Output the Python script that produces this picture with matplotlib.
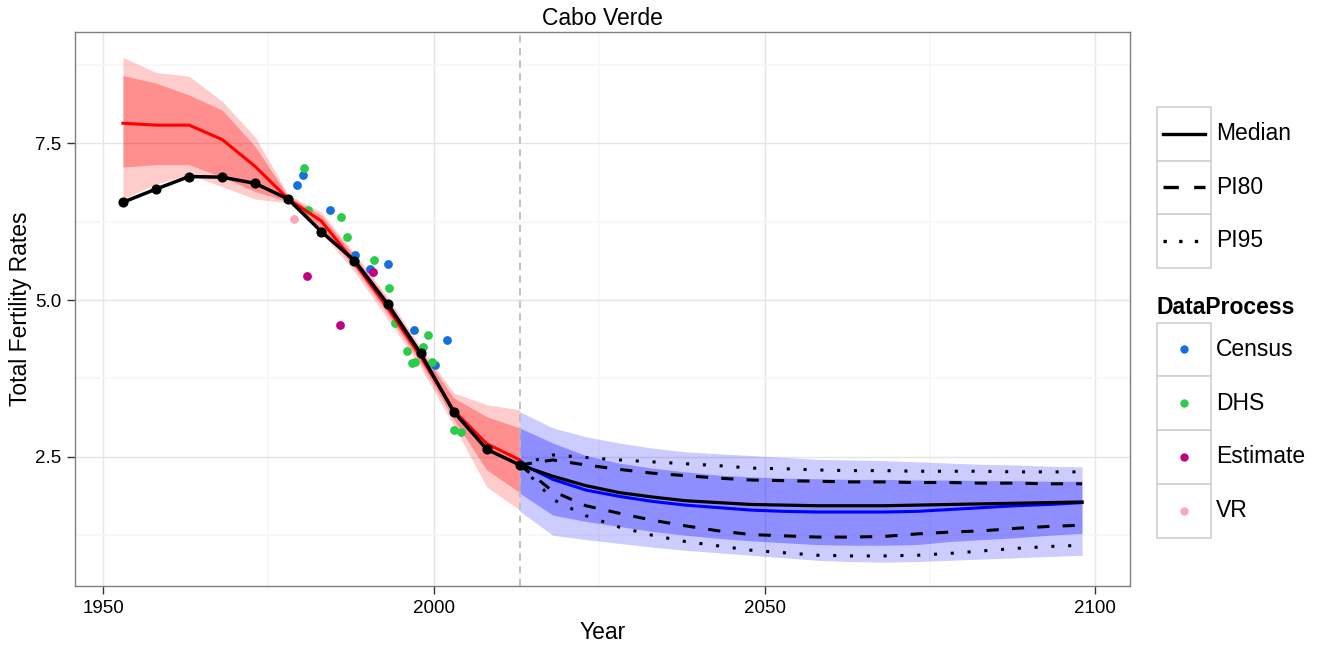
"""TFR plot for Cabo Verde: estimation (red) + projection (blue) with PI bands
and the observed data points by source."""
import matplotlib
matplotlib.use("Agg")
import matplotlib.pyplot as plt
from matplotlib.patches import Rectangle
from matplotlib.lines import Line2D

plt.rcParams["font.family"] = ["Liberation Sans", "DejaVu Sans"]

# ---- data ----
est_years = [1953, 1958, 1963, 1968, 1973, 1978, 1983, 1988, 1993, 1998, 2003, 2008, 2013]
est_black = [6.56, 6.77, 6.97, 6.96, 6.86, 6.61, 6.09, 5.63, 4.94, 4.15, 3.22, 2.62, 2.37]
est_red = [7.82, 7.79, 7.79, 7.56, 7.13, 6.61, 6.26, 5.60, 4.88, 4.10, 3.24, 2.71, 2.45]
est_u95 = [8.87, 8.63, 8.57, 8.17, 7.60, 6.68, 6.40, 5.75, 5.05, 4.25, 3.52, 3.33, 3.25]
est_u80 = [8.58, 8.46, 8.27, 8.03, 7.45, 6.65, 6.35, 5.70, 5.00, 4.20, 3.44, 3.14, 2.96]
est_l80 = [7.12, 7.16, 7.16, 6.96, 6.73, 6.57, 6.15, 5.52, 4.78, 4.00, 3.10, 2.29, 1.93]
est_l95 = [6.61, 6.85, 7.00, 6.81, 6.61, 6.55, 6.08, 5.45, 4.70, 3.93, 3.00, 2.02, 1.65]

proj_years = [2013, 2018, 2023, 2028, 2033, 2038, 2043, 2048, 2053,
              2058, 2063, 2068, 2073, 2078, 2083, 2088, 2093, 2098]
proj_median = [2.37, 2.19, 2.04, 1.93, 1.86, 1.80, 1.77, 1.74, 1.73,
               1.72, 1.72, 1.72, 1.73, 1.74, 1.75, 1.76, 1.77, 1.78]
proj_blue = [2.40, 2.14, 1.97, 1.87, 1.79, 1.73, 1.69, 1.65, 1.63,
             1.62, 1.62, 1.62, 1.63, 1.66, 1.69, 1.72, 1.74, 1.77]
pi80_up = [2.37, 2.45, 2.37, 2.30, 2.24, 2.20, 2.16, 2.13, 2.12,
           2.11, 2.10, 2.10, 2.09, 2.09, 2.08, 2.08, 2.07, 2.07]
pi80_lo = [2.37, 1.95, 1.72, 1.60, 1.49, 1.40, 1.32, 1.26, 1.24,
           1.22, 1.22, 1.23, 1.27, 1.30, 1.32, 1.36, 1.39, 1.41]
pi95_up = [2.37, 2.53, 2.49, 2.45, 2.42, 2.39, 2.36, 2.32, 2.31,
           2.29, 2.28, 2.28, 2.27, 2.27, 2.27, 2.26, 2.26, 2.26]
pi95_lo = [2.37, 1.82, 1.56, 1.38, 1.25, 1.15, 1.08, 1.01, 0.97,
           0.93, 0.92, 0.92, 0.93, 0.96, 1.00, 1.04, 1.07, 1.09]
band_u95 = [3.22, 2.96, 2.82, 2.72, 2.64, 2.58, 2.55, 2.52, 2.49,
            2.46, 2.45, 2.44, 2.42, 2.40, 2.38, 2.37, 2.35, 2.34]
band_u80 = [2.96, 2.72, 2.52, 2.40, 2.32, 2.26, 2.21, 2.18, 2.16,
            2.15, 2.14, 2.14, 2.13, 2.13, 2.12, 2.12, 2.11, 2.11]
band_l80 = [1.92, 1.57, 1.47, 1.39, 1.31, 1.25, 1.20, 1.16, 1.13,
            1.10, 1.09, 1.09, 1.10, 1.15, 1.18, 1.21, 1.25, 1.28]
band_l95 = [1.63, 1.25, 1.18, 1.12, 1.06, 1.01, 0.97, 0.93, 0.89,
            0.85, 0.83, 0.82, 0.83, 0.85, 0.87, 0.89, 0.91, 0.93]

census_x = [1980.2, 1979.3, 1984.3, 1988.1, 1990.3, 1993.0, 1997.0, 2002.0, 2000.2]
census_y = [6.99, 6.83, 6.43, 5.72, 5.49, 5.57, 4.53, 4.37, 3.97]
dhs_x = [1980.3, 1981.0, 1983.1, 1986.0, 1986.8, 1988.1, 1991.0, 1993.2, 1994.2,
         1999.1, 1995.9, 1998.3, 1996.7, 1997.2, 1999.7, 2003.1, 2004.1]
dhs_y = [7.10, 6.43, 6.10, 6.32, 6.00, 5.60, 5.64, 5.19, 4.64,
         4.44, 4.18, 4.25, 4.00, 4.02, 4.02, 2.93, 2.90]
estimate_x = [1980.8, 1990.8, 1985.8]
estimate_y = [5.39, 5.44, 4.60]
vr_x = [1978.8]
vr_y = [6.29]

source_names = ["Census", "DHS", "Estimate", "VR"]
source_colors = ["#1570DD", "#2BCB4B", "#C0007E", "#F9A8B9"]

W, H = 1318, 646
fig = plt.figure(figsize=(W / 100, H / 100), dpi=100)
fig.patch.set_facecolor("white")
ax = fig.add_axes([75 / W, (H - 586) / H, (1130 - 75) / W, (586 - 32) / H])

# bands
ax.fill_between(est_years, est_l95, est_u95, color="red", alpha=0.2, linewidth=0, zorder=2)
ax.fill_between(est_years, est_l80, est_u80, color="red", alpha=0.3, linewidth=0, zorder=2)
ax.fill_between(proj_years, band_l95, band_u95, color="blue", alpha=0.2, linewidth=0, zorder=2)
ax.fill_between(proj_years, band_l80, band_u80, color="blue", alpha=0.3, linewidth=0, zorder=2)

# observed data
for xs, ys, c in zip([census_x, dhs_x, estimate_x, vr_x],
                     [census_y, dhs_y, estimate_y, vr_y], source_colors):
    ax.scatter(xs, ys, s=40, color=c, linewidths=0, zorder=3)

ax.axvline(2013, color="#BBBBBB", linestyle=(0, (4, 3)), linewidth=1.3, zorder=2.5)

# lines
ax.plot(est_years, est_red, color="red", linewidth=2.2, zorder=4)
ax.plot(proj_years, proj_blue, color="blue", linewidth=2.2, zorder=4)
ax.plot(est_years, est_black, color="black", linewidth=2.5, marker="o",
        markersize=6.3, zorder=5)
ax.plot(proj_years, proj_median, color="black", linewidth=2.3, zorder=5)
ax.plot(proj_years, pi80_up, color="black", linewidth=2.2, linestyle=(0, (4, 4.3)), zorder=5)
ax.plot(proj_years, pi80_lo, color="black", linewidth=2.2, linestyle=(0, (4, 4.3)), zorder=5)
ax.plot(proj_years, pi95_up, color="black", linewidth=2.2, linestyle=(0, (1, 4.5)), zorder=5)
ax.plot(proj_years, pi95_lo, color="black", linewidth=2.2, linestyle=(0, (1, 4.5)), zorder=5)

# axes styling (theme_bw look)
ax.set_xlim(1945.75, 2105.25)
ax.set_ylim(0.44, 9.275)
ax.set_xticks([1950, 2000, 2050, 2100])
ax.set_xticks([1975, 2025, 2075], minor=True)
ax.set_yticks([2.5, 5.0, 7.5])
ax.set_yticks([1.25, 3.75, 6.25, 8.75], minor=True)
ax.grid(True, which="major", color="#E5E5E5", linewidth=1.0, zorder=0)
ax.grid(True, which="minor", color="#F7F7F7", linewidth=1.2, zorder=0)
ax.set_axisbelow(True)
for sp in ax.spines.values():
    sp.set_color("#7F7F7F")
    sp.set_linewidth(1.0)
ax.tick_params(axis="both", which="major", length=6, width=1.0, color="#333333",
               labelsize=13.5, labelcolor="black", pad=4)
ax.tick_params(axis="both", which="minor", length=0)
ax.set_xlabel("Year", fontsize=16.5, labelpad=3)
ax.set_ylabel("Total Fertility Rates", fontsize=16.5, labelpad=2)
ax.set_title("Cabo Verde", fontsize=16.5, pad=5)

# legends drawn by hand in pixel coordinates
lg = fig.add_axes([0, 0, 1, 1])
lg.set_xlim(0, W)
lg.set_ylim(H, 0)
lg.axis("off")

key_x, key_w = 1157, 54
key_h = 53.5
line_styles = [("Median", "-"), ("PI80", (0, (4.6, 4.6))), ("PI95", (0, (1, 3.7)))]
top = 107
for i, (name, ls) in enumerate(line_styles):
    y0 = top + i * key_h
    lg.add_patch(Rectangle((key_x, y0), key_w, key_h, facecolor="white",
                           edgecolor="#D0D0D0", linewidth=1.2))
    lg.add_line(Line2D([key_x + 6, key_x + key_w - 6], [y0 + key_h / 2] * 2,
                       color="black", linewidth=2.4, linestyle=ls))
    lg.text(key_x + key_w + 5, y0 + key_h / 2, name, fontsize=16.5, va="center", ha="left")

lg.text(key_x, 307, "DataProcess", fontsize=16.5, fontweight="bold", va="center", ha="left")
top2 = 322.5
key_h2 = 53.75
for i, (name, c) in enumerate(zip(source_names, source_colors)):
    y0 = top2 + i * key_h2
    lg.add_patch(Rectangle((key_x, y0), key_w, key_h2, facecolor="white",
                           edgecolor="#D0D0D0", linewidth=1.2))
    lg.plot([key_x + key_w / 2], [y0 + key_h2 / 2], "o", color=c, markersize=6,
            markeredgewidth=0)
    lg.text(key_x + key_w + 5, y0 + key_h2 / 2, name, fontsize=16.5, va="center", ha="left")

fig.savefig("out.png", dpi=100, facecolor="white")
